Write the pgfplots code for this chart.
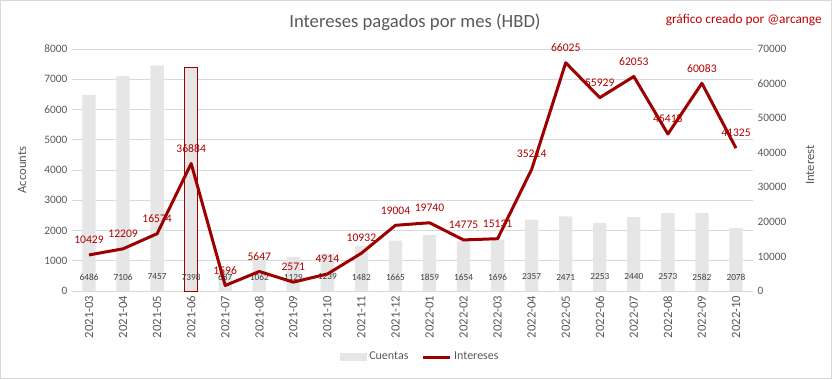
\documentclass[border=0pt]{standalone}
\usepackage{pgfplots}
\pgfplotsset{compat=1.18}
\usepackage{fontspec}
\setmainfont{Carlito}
\definecolor{barfill}{HTML}{E7E6E6}
\definecolor{linered}{HTML}{9C0000}
\definecolor{labred}{HTML}{B00000}
\definecolor{gridc}{HTML}{D9D9D9}
\definecolor{tickc}{HTML}{595959}
\definecolor{barlab}{HTML}{404040}
\definecolor{credit}{HTML}{C00000}
\pgfplotstableread{
x cuentas intereses
0 6486 10429
1 7106 12209
2 7457 16574
3 7398 36884
4 687 1596
5 1062 5647
6 1129 2571
7 1239 4914
8 1482 10932
9 1665 19004
10 1859 19740
11 1654 14775
12 1696 15131
13 2357 35214
14 2471 66025
15 2253 55929
16 2440 62053
17 2573 45418
18 2582 60083
19 2078 41325
}\datatable
\pgfplotstableread{
x y lab
0 463 6486
1 463 7106
2 463 7457
3 463 7398
4 463 687
5 463 1062
6 463 1129
7 463 1239
8 463 1482
9 463 1665
10 463 1859
11 463 1654
12 463 1696
13 463 2357
14 463 2471
15 463 2253
16 463 2440
17 463 2573
18 463 2582
19 463 2078
}\barlabels
\begin{document}
\begin{tikzpicture}
\path[draw=gridc, line width=0.75pt] (0.375pt,0.375pt) rectangle (623.625pt,283.875pt);
\begin{axis}[at={(54pt,66pt)}, anchor=south west, scale only axis,
  width=510.75pt, height=181.5pt,
  xmin=-0.5, xmax=19.5, ymin=0, ymax=8000,
  xtick={0,...,19},
  xticklabels={2021-03,2021-04,2021-05,2021-06,2021-07,2021-08,2021-09,2021-10,2021-11,2021-12,2022-01,2022-02,2022-03,2022-04,2022-05,2022-06,2022-07,2022-08,2022-09,2022-10},
  ytick={0,1000,...,8000},
  ymajorgrids, grid style={gridc, line width=0.75pt},
  axis x line*=bottom, axis y line*=left,
  x axis line style={gridc, line width=0.75pt, -},
  y axis line style={draw=none},
  major tick length=0pt,
  xticklabel style={rotate=90, anchor=east, font=\fontsize{9.5}{11}\selectfont, text=tickc, xshift=0pt},
  yticklabel style={font=\fontsize{8.5}{10}\selectfont, text=tickc},
  /pgf/number format/1000 sep={},
  /pgf/number format/assume math mode=true,
  clip=false,
]
\addplot[ybar, bar width=10pt, bar shift=0pt, fill=barfill, draw=none] table[x=x, y=cuentas] {\datatable};
\addplot[ybar, bar width=10pt, bar shift=0pt, fill=barfill, draw=linered, line width=0.75pt] coordinates {(3,7398)};
\addplot[draw=none, mark=none, nodes near coords, point meta=explicit symbolic,
  every node near coord/.style={anchor=center, font=\fontsize{7}{8}\selectfont, text=barlab}]
  table[x=x, y=y, meta=lab] {\barlabels};
\end{axis}
\begin{axis}[at={(54pt,66pt)}, anchor=south west, scale only axis,
  width=510.75pt, height=181.5pt,
  xmin=-0.5, xmax=19.5, ymin=0, ymax=70000,
  ytick={0,10000,...,70000},
  axis x line=none, axis y line*=right,
  y axis line style={draw=none},
  major tick length=0pt,
  yticklabel style={font=\fontsize{8.5}{10}\selectfont, text=tickc},
  scaled y ticks=false,
  /pgf/number format/1000 sep={},
  /pgf/number format/assume math mode=true,
  clip=false,
  legend columns=2,
  legend style={draw=none, fill=none, at={(0.512,-0.273)}, anchor=center,
    font=\fontsize{9}{10}\selectfont, text=tickc,
    /tikz/every even column/.append style={column sep=8pt}},
]
\addlegendimage{legend image code/.code={\fill[barfill] (0pt,-2.5pt) rectangle (19.5pt,2.5pt);}}
\addlegendentry{Cuentas}
\addplot[linered, line width=2.25pt, line join=round, mark=none,
  nodes near coords, point meta=explicit,
  every node near coord/.style={anchor=center, yshift=11.25pt, font=\fontsize{8.7}{10}\selectfont, text=labred},
  legend image code/.code={\draw[linered, line width=2.25pt] (0pt,0pt) -- (20pt,0pt);}]
  table[x=x, y=intereses, meta=intereses] {\datatable};
\addlegendentry{Intereses}
\end{axis}
\node[font=\fontsize{14}{16}\selectfont, text=tickc] at (311.25pt,267.75pt) {Intereses pagados por mes (HBD)};
\node[font=\fontsize{10}{12}\selectfont, text=credit, anchor=east, inner sep=0pt] at (616.5pt,269.25pt) {gráfico creado por @arcange};
\node[rotate=90, font=\fontsize{9.5}{11}\selectfont, text=tickc] at (16.5pt,156.75pt) {Accounts};
\node[rotate=90, font=\fontsize{9.5}{11}\selectfont, text=tickc] at (607.5pt,160.5pt) {Interest};
\end{tikzpicture}
\end{document}
